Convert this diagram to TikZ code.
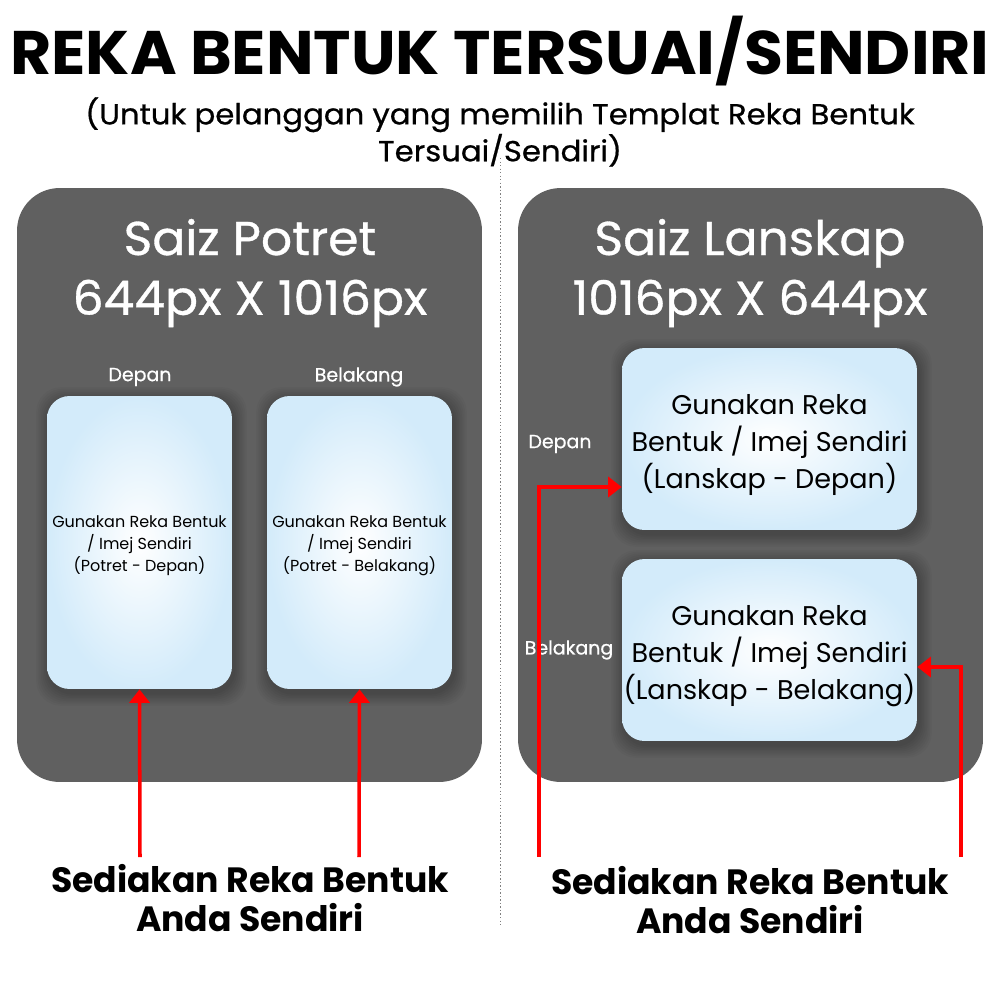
\documentclass[tikz,border=0pt]{standalone}
\usepackage{fontspec}
\setmainfont{Poppins}
\newfontfamily\popmed[FakeBold=0.7]{Poppins}
\usetikzlibrary{arrows.meta,calc}
\definecolor{panel}{HTML}{606060}
\definecolor{cardedge}{HTML}{D3EBFA}
\definecolor{redline}{HTML}{FF0000}
\newcommand\cardshadow[4]{%
  \foreach \k in {1,...,8}{%
    \fill[black,opacity=0.028,rounded corners=0.5cm]
      ({#1-#3/2-\k*1.6+2},{#2-#4/2-\k*1.6+4}) rectangle ({#1+#3/2+\k*1.6+2},{#2+#4/2+\k*1.6+4});
  }}
\begin{document}
\begin{tikzpicture}[x=0.02cm,y=-0.02cm,
  panelbox/.style={fill=panel,draw=none,rounded corners=0.85cm,inner sep=0pt},
  cardbox/.style={draw=none,rounded corners=0.45cm,inner sep=0pt,
    shading=radial,inner color=white,outer color=cardedge},
  redarrow/.style={draw=redline,line width=2pt,-{Triangle[length=0.27cm,width=0.4cm]}},
  whitetxt/.style={text=white,align=center,inner sep=0pt},
  blacktxt/.style={text=black,align=center,inner sep=0pt}]
\useasboundingbox[fill=white] (0,0) rectangle (1000,1000);

% title
\node[blacktxt,font=\fontsize{35}{40}\bfseries\selectfont] (title) at (500,51) {\scalebox{1.03}[1]{REKA BENTUK TERSUAI/SENDIRI}};
\node[blacktxt,font=\fontsize{16.5}{21}\popmed\selectfont] (sub) at (500,132)
  {\scalebox{1.06}[1]{(Untuk pelanggan yang memilih Templat Reka Bentuk}\\\scalebox{1.06}[1]{Tersuai/Sendiri)}};

% divider
\coordinate (d1) at (500,158);
\coordinate (d2) at (500,925);
\draw[gray,line width=0.5pt,dash pattern=on 0.8pt off 1.2pt] (d1) -- (d2);

% panels
\node[panelbox,minimum width=9.3cm,minimum height=11.88cm] (lp) at (249.5,485) {};
\node[panelbox,minimum width=9.3cm,minimum height=11.88cm] (rp) at (750.5,485) {};

\node[whitetxt,font=\fontsize{27}{34}\popmed\selectfont] (lt) at (250,273) {\scalebox{1.03}[1]{Saiz Potret}\\\scalebox{1.03}[1]{644px X 1016px}};
\node[whitetxt,font=\fontsize{27}{34}\popmed\selectfont] (rt) at (750,273) {\scalebox{1.03}[1]{Saiz Lanskap}\\\scalebox{1.03}[1]{1016px X 644px}};

\node[whitetxt,font=\fontsize{10.8}{12}\popmed\selectfont] (ld) at (140,377) {Depan};
\node[whitetxt,font=\fontsize{10.8}{12}\popmed\selectfont] (lb) at (359,377) {Belakang};
\node[whitetxt,font=\fontsize{10.8}{12}\popmed\selectfont] (rd) at (560,444) {Depan};
\node[whitetxt,font=\fontsize{10.8}{12}\popmed\selectfont] (rb) at (569,650) {Belakang};

% shadows
\cardshadow{139.5}{542.5}{185}{293}
\cardshadow{359.5}{542.5}{185}{293}
\cardshadow{769.5}{439}{295}{182}
\cardshadow{769.5}{650}{295}{182}

% cards
\node[cardbox,minimum width=3.7cm,minimum height=5.86cm] (lc1) at (139.5,542.5) {};
\node[cardbox,minimum width=3.7cm,minimum height=5.86cm] (lc2) at (359.5,542.5) {};
\node[cardbox,minimum width=5.9cm,minimum height=3.64cm] (rc1) at (769.5,439) {};
\node[cardbox,minimum width=5.9cm,minimum height=3.64cm] (rc2) at (769.5,650) {};

\node[blacktxt,font=\fontsize{9.1}{12.5}\selectfont] (lc1t) at ($(lc1.center)+(0,3)$)
  {Gunakan Reka Bentuk\\/ Imej Sendiri\\(Potret - Depan)};
\node[blacktxt,font=\fontsize{9.1}{12.5}\selectfont] (lc2t) at ($(lc2.center)+(0,3)$)
  {Gunakan Reka Bentuk\\/ Imej Sendiri\\(Potret - Belakang)};
\node[blacktxt,font=\fontsize{15.4}{21}\selectfont] (rc1t) at ($(rc1.center)+(0,6)$)
  {Gunakan Reka\\Bentuk / Imej Sendiri\\(Lanskap - Depan)};
\node[blacktxt,font=\fontsize{15.4}{21}\selectfont] (rc2t) at ($(rc2.center)+(0,6)$)
  {Gunakan Reka\\Bentuk / Imej Sendiri\\(Lanskap - Belakang)};

% arrows
\coordinate (a1) at (140,857);
\coordinate (a2) at (359,857);
\coordinate (a3) at (539,857);
\coordinate (a4) at (961,857);
\draw[redarrow] (a1) -- (lc1.south);
\draw[redarrow] (a2) -- (lc2.south);
\draw[redarrow] (a3) |- ([yshift=-0.96cm]rc1.west);
\draw[redarrow] (a4) |- ([yshift=-0.34cm]rc2.east);

% bottom captions
\node[blacktxt,font=\fontsize{20}{22.3}\bfseries\selectfont] (lcap) at (250,898)
  {\scalebox{0.985}[1]{Sediakan Reka Bentuk}\\\scalebox{0.985}[1]{Anda Sendiri}};
\node[blacktxt,font=\fontsize{20}{22.3}\bfseries\selectfont] (rcap) at (750,900)
  {\scalebox{0.985}[1]{Sediakan Reka Bentuk}\\\scalebox{0.985}[1]{Anda Sendiri}};
\end{tikzpicture}
\end{document}
